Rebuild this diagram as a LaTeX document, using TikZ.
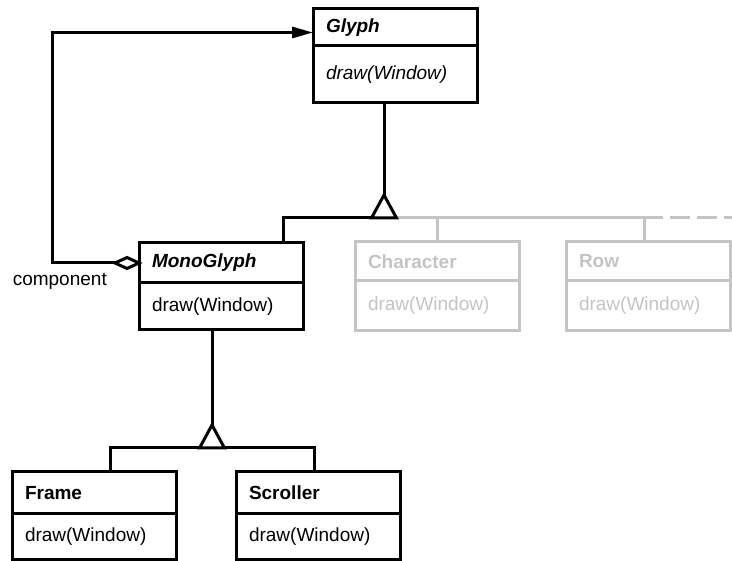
\documentclass[tikz,border=0pt]{standalone}
\usepackage{fontspec}
\setmainfont{Liberation Sans}
\usetikzlibrary{arrows.meta}
\definecolor{ghost}{RGB}{196,196,196}
\newcommand{\umlfont}{\fontsize{19}{22}\selectfont}
\tikzset{
  classbox/.style={draw, rectangle, line width=3pt, outer sep=0pt,
    inner xsep=13pt, inner ysep=0pt, text width=138pt, align=left,
    anchor=north west, font=\umlfont},
  ghostbox/.style={classbox, draw=ghost, text=ghost},
  link/.style={line width=3pt},
  ghostlink/.style={line width=3pt, draw=ghost},
  marker/.style={link, fill=white},
}

\begin{document}
\begin{tikzpicture}[x=1pt, y=-1pt]
\useasboundingbox (0,0) rectangle (732,561);

% classes
\node[classbox, minimum height=37pt] (glyph) at (313,9) {\textbf{\textit{Glyph}}};
\node[classbox, minimum height=57pt] (glyphops) at (glyph.south west) {\textit{draw(Window)}};

\node[classbox, minimum height=40pt] (mono) at (139,243) {\textbf{\textit{MonoGlyph}}};
\node[classbox, minimum height=47pt] (monoops) at (mono.south west) {draw(Window)};

\node[ghostbox, minimum height=39pt] (char) at (355,242) {\textbf{Character}};
\node[ghostbox, minimum height=50pt] (charops) at (char.south west) {draw(Window)};

\node[ghostbox, minimum height=39pt] (row) at (566,242) {\textbf{Row}};
\node[ghostbox, minimum height=50pt] (rowops) at (row.south west) {draw(Window)};

\node[classbox, minimum height=42pt] (frame) at (12,472) {\textbf{Frame}};
\node[classbox, minimum height=46pt] (frameops) at (frame.south west) {draw(Window)};

\node[classbox, minimum height=42pt] (scroller) at (236,472) {\textbf{Scroller}};
\node[classbox, minimum height=46pt] (scrollerops) at (scroller.south west) {draw(Window)};

% Glyph subclasses
\coordinate (gbase) at (384,218);
\coordinate (more) at (663,218);
\draw[ghostlink] ([xshift=13pt]gbase) -- (more);
\draw[ghostlink, dash pattern=on 20pt off 7pt] ([xshift=7pt]more) -- ++(62,0);
\draw[ghostlink] (char.north) -- (char.north |- gbase);
\draw[ghostlink] ([xshift=-4pt]row.north) -- ([xshift=-4pt]row.north |- gbase);
\draw[link] ([xshift=62pt]mono.north) |- (gbase);
\draw[link] ([yshift=23pt]gbase) -- (gbase |- glyphops.south);
\draw[marker] (gbase) -- ++(-12.5,0) -- ++(12.5,-23) -- ++(12.5,23) -- cycle;

% component
\draw[link, -{Triangle[length=21pt, width=11pt]}]
  ([xshift=-24pt]mono.west) -- ++(-63,0) |- ([yshift=-5pt]glyph.west);
\draw[marker] (mono.west) -- ++(-12,-5.5) -- ++(-12,5.5) -- ++(12,5.5) -- cycle;
\node[font=\umlfont, inner sep=0pt, anchor=east] (component) at (107,281) {component};

% MonoGlyph subclasses
\coordinate (mbase) at (212,448);
\draw[link] ([xshift=16pt]frame.north) |- (mbase) -| ([xshift=-4pt]scroller.north);
\draw[link] ([yshift=23pt]mbase) -- (mbase |- monoops.south);
\draw[marker] (mbase) -- ++(-12.5,0) -- ++(12.5,-23) -- ++(12.5,23) -- cycle;
\end{tikzpicture}
\end{document}
